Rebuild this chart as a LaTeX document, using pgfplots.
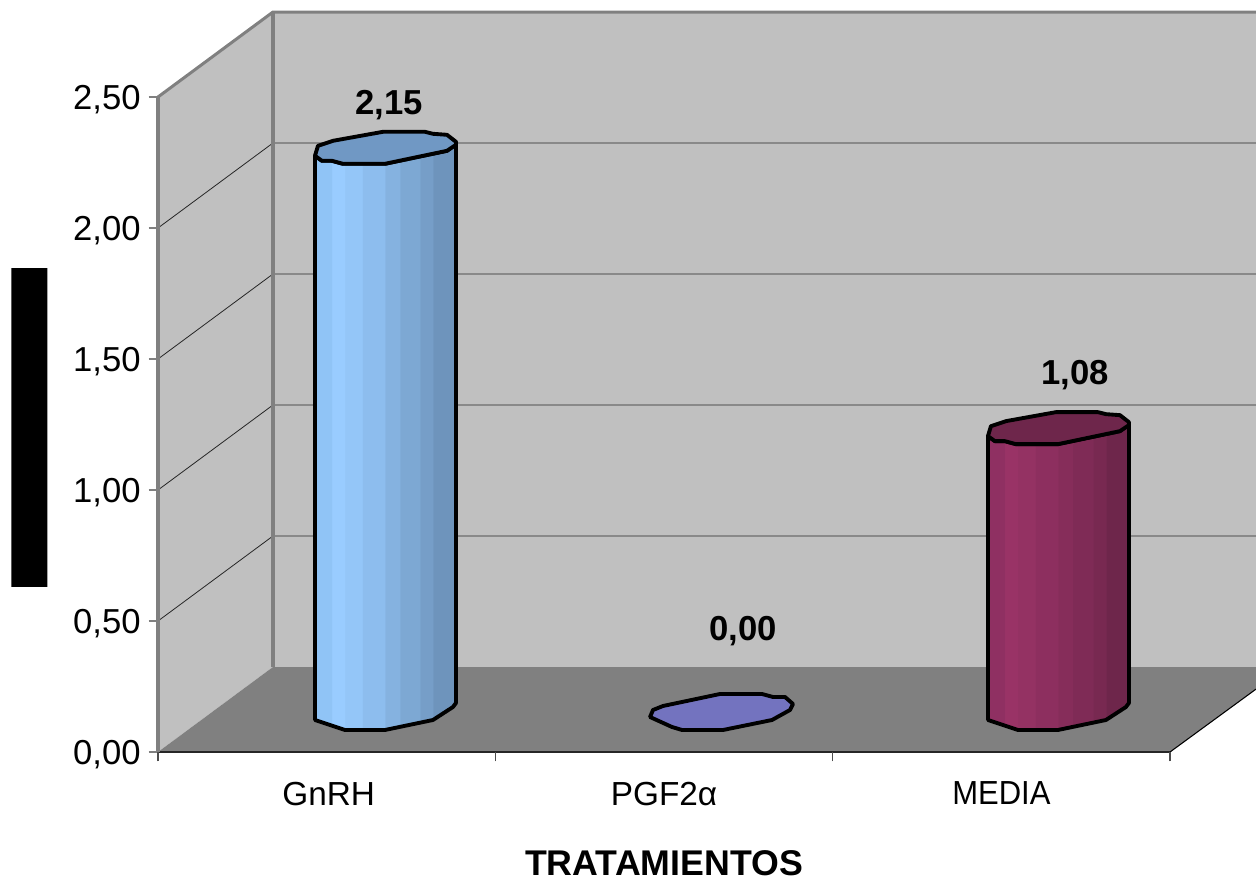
\documentclass[border=0pt]{standalone}
\usepackage{fontspec}
\setmainfont{Liberation Sans}
\usepackage{pgfplots}
\usepackage{pgfplotstable}
\pgfplotsset{compat=1.18}

% band colours of the cylinder fronts, left to right
\definecolor{g1}{HTML}{90C4F6}\definecolor{g2}{HTML}{99CCFF}\definecolor{g3}{HTML}{94C6F8}
\definecolor{g4}{HTML}{8DBDEE}\definecolor{g5}{HTML}{85B2E0}\definecolor{g6}{HTML}{7DA8D3}
\definecolor{g7}{HTML}{769EC8}\definecolor{g8}{HTML}{6E94BC}
\definecolor{m1}{HTML}{8F3062}\definecolor{m2}{HTML}{993366}\definecolor{m3}{HTML}{943263}
\definecolor{m4}{HTML}{8D2F5F}\definecolor{m5}{HTML}{862D5A}\definecolor{m6}{HTML}{7F2B56}
\definecolor{m7}{HTML}{782951}\definecolor{m8}{HTML}{6E264B}
\definecolor{lidblue}{HTML}{7098C4}
\definecolor{lidwine}{HTML}{6E264B}
\definecolor{discblue}{HTML}{7373BF}
\definecolor{wall}{HTML}{C0C0C0}
\definecolor{floorgray}{HTML}{808080}

\newcommand\bandshade[2]{%
  \pgfdeclarehorizontalshading{#1}{100bp}{%
    color(0bp)=(#21); color(31bp)=(#21);
    color(31.05bp)=(#22); color(35.6bp)=(#22);
    color(35.65bp)=(#23); color(41.7bp)=(#23);
    color(41.75bp)=(#24); color(49.8bp)=(#24);
    color(49.85bp)=(#25); color(55.1bp)=(#25);
    color(55.15bp)=(#26); color(62.2bp)=(#26);
    color(62.25bp)=(#27); color(66.8bp)=(#27);
    color(66.85bp)=(#28); color(100bp)=(#28)}}
\bandshade{gnrhbands}{g}
\bandshade{mediabands}{m}

% cylinder outlines: dx, dy in pixels from the left edge and the floor point,
% top = 1 for points carried up by the value
\pgfplotstableread{
dx  dy top
0   10 0
30  0  0
70  0  0
118 10 0
138 23 0
141 27 0
141 20 1
132 13 1
70  0  1
28  0  1
17  3  1
7   3  1
0   8  1
0   10 0
}\cylbody
\pgfplotstableread{
dx  dy top
0   8  1
7   3  1
17  3  1
28  0  1
70  0  1
132 13 1
141 19 1
141 22 1
132 29 1
118 30 1
110 32 1
68  32 1
18  23 1
3   18 1
0   8  1
}\cyllid
\pgfplotstableread{
dx  dy
0   13
22  3
32  0
73  0
122 10
140 20
143 26
135 33
123 33
112 36
70  36
13  24
3   20
0   13
}\cyldisc

% category position, left-edge offset, value, body shading, lid colour
\newcommand\cylinder[5]{%
  \addplot[shade,shading=#4,draw=black,line width=2.9pt,line join=round,line cap=round]
    table[x expr={#1+(\thisrow{dx}-#2)/337.33},
          y expr={0.084+\thisrow{dy}/262+\thisrow{top}*(#3+0.011)}] {\cylbody};
  \addplot[fill=#5,draw=black,line width=2.9pt,line join=round,line cap=round]
    table[x expr={#1+(\thisrow{dx}-#2)/337.33},
          y expr={0.084+\thisrow{dy}/262+\thisrow{top}*(#3+0.011)}] {\cyllid};
}

\begin{document}
\begin{tikzpicture}
\path[use as bounding box] (-118.5pt,-97.5pt) rectangle (823.5pt,564pt);
\begin{axis}[
  scale only axis, width=759pt, height=491.25pt,
  xmin=-0.5, xmax=2.5, ymin=0, ymax=2.5,
  clip=false, axis on top=true,
  axis lines=left, axis line style={-},
  x axis line style={draw=black!85,line width=1.2pt},
  y axis line style={draw=floorgray,line width=2.25pt},
  tick align=outside, major tick length=7pt,
  ytick={0,0.5,1,1.5,2,2.5},
  ytick style={draw=floorgray,line width=1.5pt},
  xtick={0,1,2},
  xticklabels={\hspace*{3pt}GnRH,PGF2α,\scalebox{0.93}[1]{MEDIA}},
  major x tick style={draw=none},
  extra x ticks={-0.5,0.5,1.5,2.5},
  extra x tick labels={},
  extra x tick style={major x tick style={draw=black!70,line width=0.8pt}},
  xticklabel style={font=\fontsize{25}{30}\selectfont, yshift=-12pt},
  yticklabel style={font=\fontsize{26}{31}\selectfont, xshift=-2.5pt, yshift=-2pt},
  /pgf/number format/.cd, fixed, fixed zerofill, precision=2, use comma, assume math mode=true,
  /pgfplots/.cd,
  xlabel={TRATAMIENTOS},
  xlabel style={font=\fontsize{26.8}{31}\selectfont\bfseries, yshift=-13pt},
]
% side wall, back wall and floor
\addplot[fill=wall,draw=none] coordinates {(-0.5,0) (-0.1592,0.3244) (-0.1592,2.8244) (-0.5,2.5) (-0.5,0)};
\addplot[fill=wall,draw=none] coordinates {(-0.1592,0.3244) (2.7554,0.3244) (2.7554,2.8244) (-0.1592,2.8244) (-0.1592,0.3244)};
\addplot[fill=floorgray,draw=none] coordinates {(-0.5,0) (-0.1592,0.3244) (2.7554,0.3244) (2.7554,0.2405) (2.5,0) (-0.5,0)};
\addplot[draw=black,line width=0.8pt] coordinates {(2.5,0) (2.7554,0.2405)};
% gridlines across the walls
\addplot[draw=black!85,line width=0.6pt] coordinates {(-0.5,0.5) (-0.1592,0.8244) (2.7554,0.8244)};
\addplot[draw=black!85,line width=0.6pt] coordinates {(-0.5,1.0) (-0.1592,1.3244) (2.7554,1.3244)};
\addplot[draw=black!85,line width=0.6pt] coordinates {(-0.5,1.5) (-0.1592,1.8244) (2.7554,1.8244)};
\addplot[draw=black!85,line width=0.6pt] coordinates {(-0.5,2.0) (-0.1592,2.3244) (2.7554,2.3244)};
% wall edges
\addplot[draw=floorgray,line width=2.25pt] coordinates {(-0.5,2.5) (-0.1592,2.8244) (2.7554,2.8244)};
\addplot[draw=floorgray,line width=2.6pt] coordinates {(-0.1592,0.3244) (-0.1592,2.8244)};
% cylinders
\cylinder{0}{11.7}{2.15}{gnrhbands}{lidblue}
\addplot[fill=discblue,draw=black,line width=2.9pt,line join=round,line cap=round]
  table[x expr={1+(\thisrow{dx}-14)/337.33}, y expr={0.084+\thisrow{dy}/262}] {\cyldisc};
\cylinder{2}{13.4}{1.08}{mediabands}{lidwine}
% value labels
\node[font=\fontsize{26}{31}\selectfont\bfseries] at (axis cs:0.185,2.469) {2,15};
\node[font=\fontsize{26}{31}\selectfont\bfseries] at (axis cs:1.235,0.461) {0,00};
\node[font=\fontsize{26}{31}\selectfont\bfseries] at (axis cs:2.219,1.439) {1,08};
% solid block beside the vertical axis
\addplot[fill=black,draw=none] coordinates {(-0.9350,0.6298) (-0.8283,0.6298) (-0.8283,1.8473) (-0.9350,1.8473) (-0.9350,0.6298)};
\end{axis}
\end{tikzpicture}
\end{document}
